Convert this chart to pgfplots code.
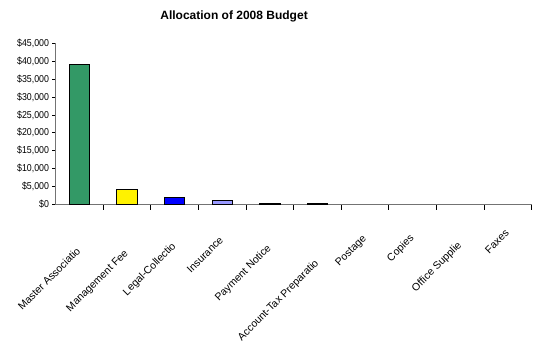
\documentclass[border=0pt]{standalone}
\usepackage{fontspec}
\setmainfont{Liberation Sans}
\newfontfamily\narrowfont{Liberation Sans}[FakeStretch=0.88]
\usepackage{pgfplots}
\pgfplotsset{compat=1.18}
\definecolor{barGreen}{RGB}{51,153,102}
\definecolor{barLav}{RGB}{153,153,255}
\newcommand\lab[2]{\raisebox{-\dimexpr #1pt*7071/10000\relax}[8pt][0pt]{#2}\hspace*{\dimexpr #1pt*7071/10000\relax}}
\begin{document}
\begin{tikzpicture}
\useasboundingbox (-55.5pt,-138.5pt) rectangle (484.5pt,204.5pt);
\begin{axis}[
  at={(0,0)}, anchor=south west,
  scale only axis, width=476.2pt, height=161.2pt,
  xmin=-0.5, xmax=9.5, ymin=0, ymax=45000,
  axis lines*=left,
  axis line style={black!55, line width=1pt},
  ybar, bar width=20.5pt,
  xtick={0,...,9},
  every major x tick/.append style={draw=none},
  minor xtick={0.5,1.5,...,9.5},
  every minor x tick/.append style={black, line width=0.8pt},
  minor tick length=5pt,
  major tick length=3pt,
  tick align=outside,
  ytick={0,5000,...,45000},
  every major y tick/.append style={black, line width=0.8pt},
  scaled y ticks=false,
  yticklabel={\narrowfont\$\pgfmathprintnumber[1000 sep={,}, assume math mode=true]{\tick}},
  yticklabel style={font=\fontsize{10}{12}\selectfont},
  xticklabels={
    {\lab{33.5}{Master Associatio}},
    {\lab{35.5}{Management Fee}},
    {\lab{28.5}{Legal-Collectio}},
    {\lab{22.5}{Insurance}},
    {\lab{30.5}{Payment Notice}},
    {\lab{45.5}{Account-Tax Preparatio}},
    {\lab{20.5}{Postage}},
    {\lab{20.5}{Copies}},
    {\lab{27.5}{Office Supplie}},
    {\lab{15.5}{Faxes}}},
  xticklabel style={xshift=-4pt, yshift=-5pt, rotate=45, anchor=north east, inner sep=0pt, font=\fontsize{10.5}{13}\selectfont},
  title={Allocation of 2008 Budget},
  title style={font=\fontsize{12}{14}\selectfont\bfseries, at={(0.375,1)}, anchor=center, yshift=21.3pt},
]
\addplot[fill=barGreen, draw=black, line width=0.8pt, bar shift=0pt] coordinates {(0,39200)};
\addplot[fill=yellow, draw=black, line width=0.8pt, bar shift=0pt] coordinates {(1,4100)};
\addplot[fill=blue, draw=black, line width=0.8pt, bar shift=0pt] coordinates {(2,1900)};
\addplot[fill=barLav, draw=black, line width=0.8pt, bar shift=0pt] coordinates {(3,1100)};
\addplot[fill=black, draw=black, line width=0.8pt, bar shift=0pt] coordinates {(4,250) (5,250)};
\addplot[draw=none, fill=none, bar shift=0pt] coordinates {(6,0) (7,0) (8,0) (9,0)};
\end{axis}
\end{tikzpicture}
\end{document}
